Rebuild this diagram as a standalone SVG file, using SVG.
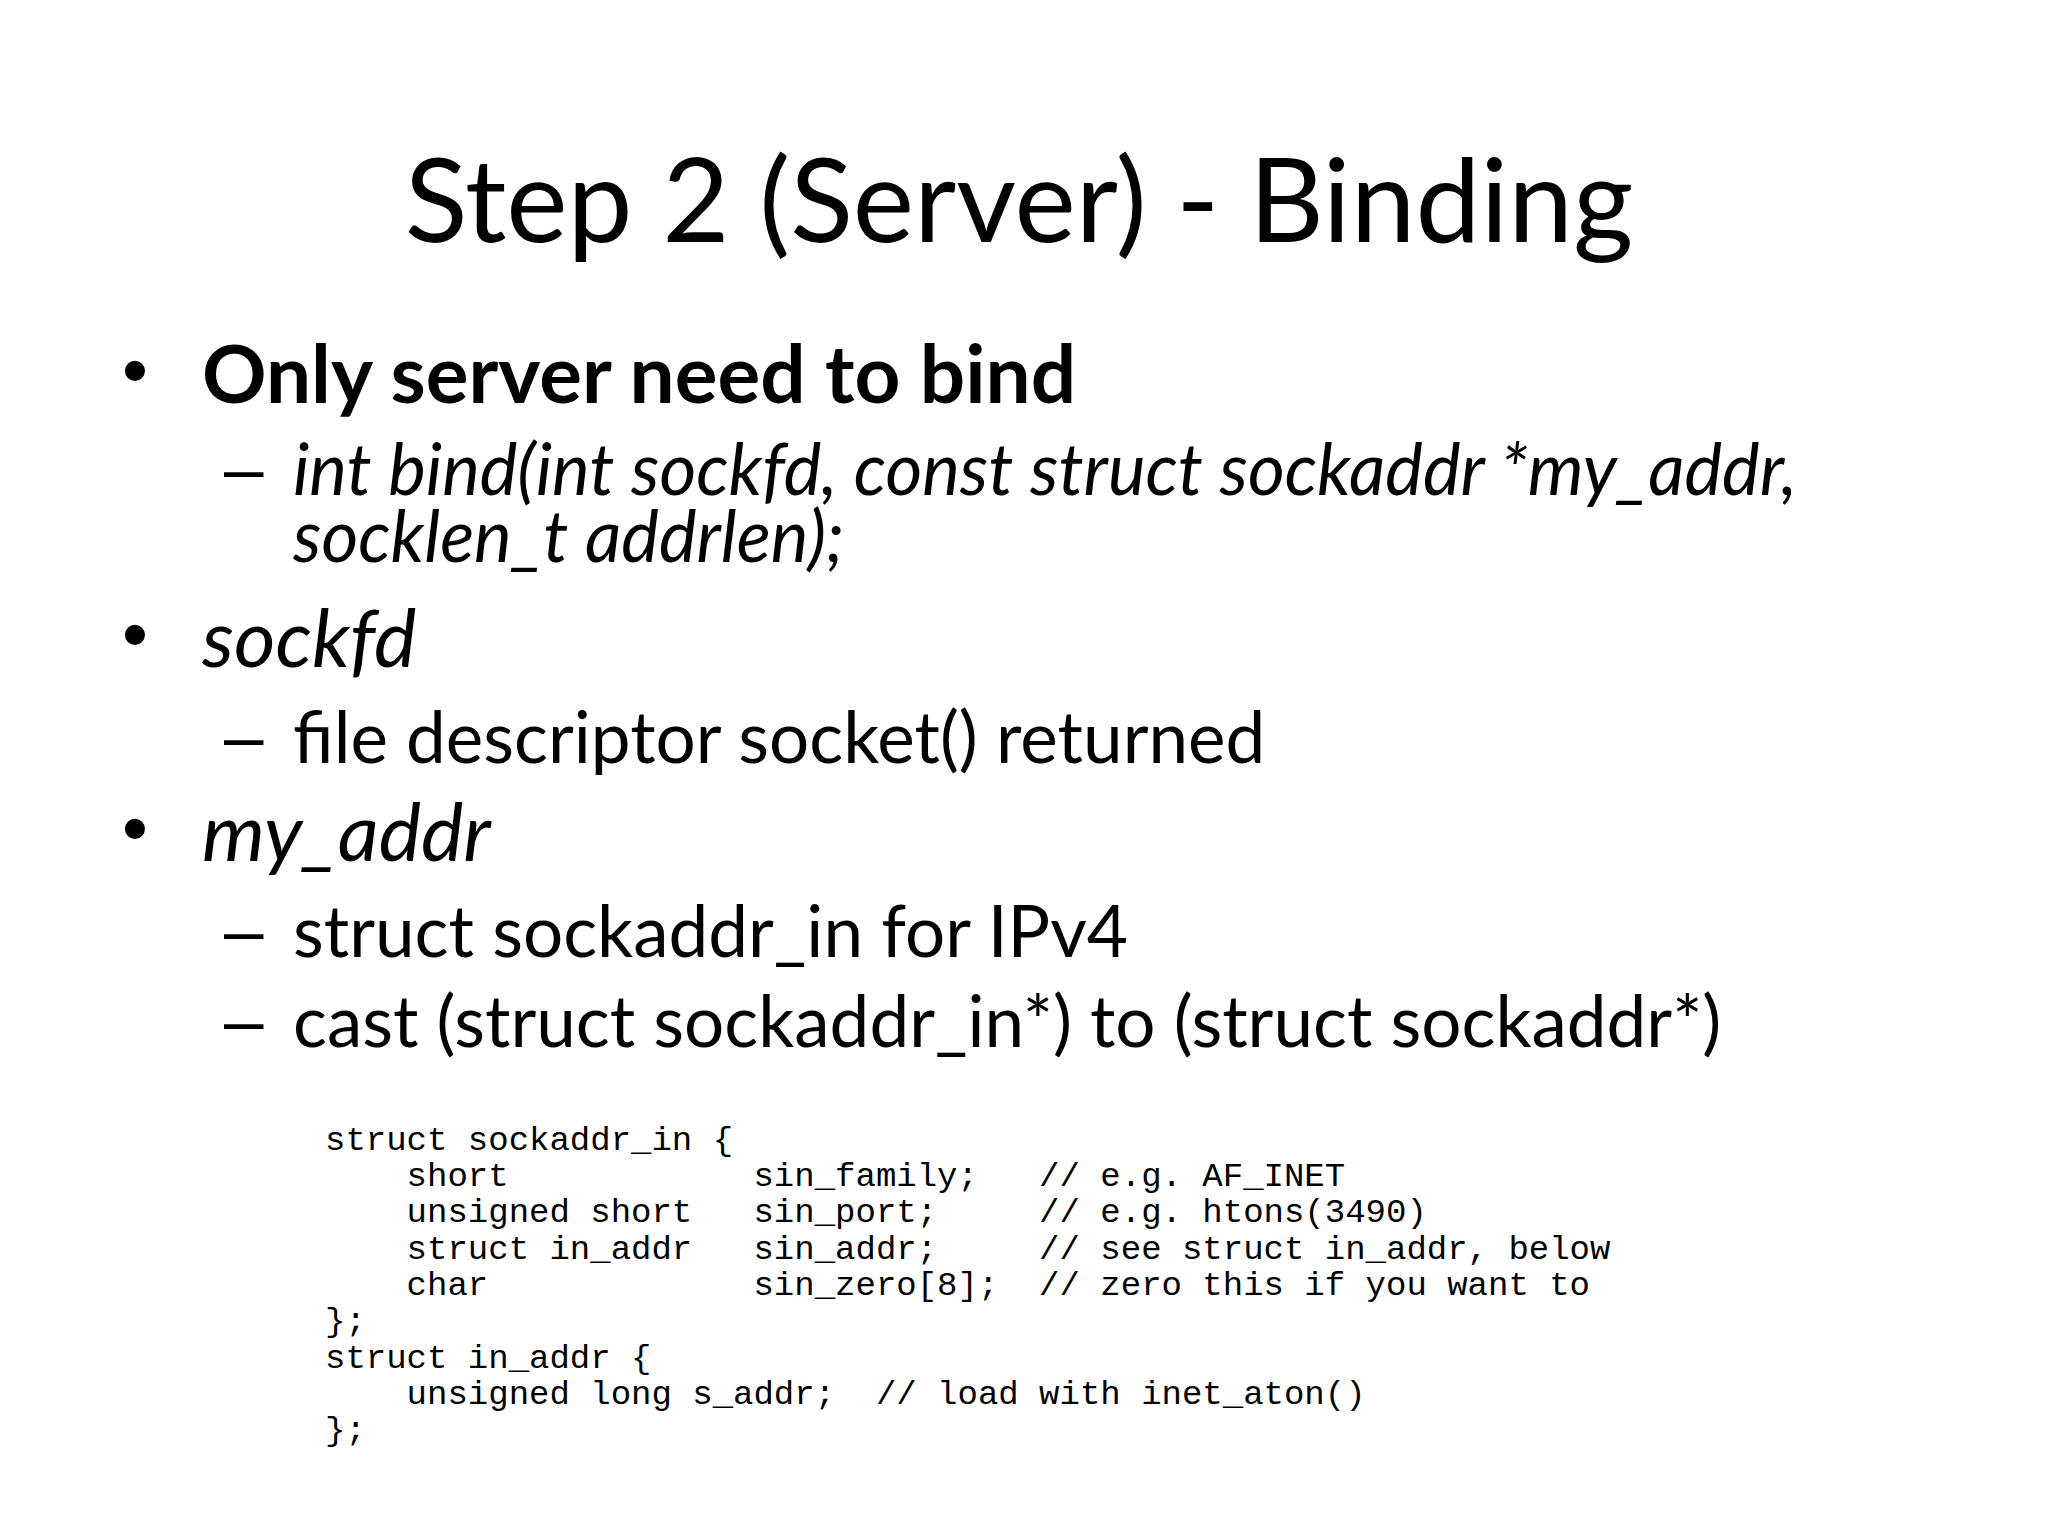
<svg xmlns="http://www.w3.org/2000/svg" width="2048" height="1536" viewBox="0 0 2048 1536">
<style>
.t{font-family:Lato,"Liberation Sans",sans-serif;fill:#000}
.b{font-size:80px}
.s{font-size:71px}
.d{font-size:71px;font-family:"Liberation Sans",sans-serif}
.u{font-size:74px;font-family:"Liberation Sans",sans-serif}
.c{font-family:"Liberation Mono","Courier New",monospace;font-size:34px;fill:#000;white-space:pre}
</style>
<rect width="2048" height="1536" fill="#fff"/>
<text class="t" x="1019" y="242" font-size="116" text-anchor="middle">Step 2 (Server) - Binding</text>
<g id="bullets">
<text class="t u" x="122" y="396">•</text>
<text class="t b" x="202" y="403" font-weight="bold">Only server need to bind</text>
<text class="t d" x="224" y="493">–</text>
<text class="t s" x="293" y="495" font-style="italic">int bind(int sockfd, const struct sockaddr *my_addr,</text>
<text class="t s" x="293" y="562" font-style="italic">socklen_t addrlen);</text>
<text class="t u" x="122" y="660">•</text>
<text class="t b" x="202" y="667" font-style="italic">sockfd</text>
<text class="t d" x="224" y="761">–</text>
<text class="t s" x="293" y="763">file descriptor socket() returned</text>
<text class="t u" x="122" y="854">•</text>
<text class="t b" x="202" y="861" font-style="italic">my_addr</text>
<text class="t d" x="224" y="955">–</text>
<text class="t s" x="293" y="957">struct sockaddr_in for IPv4</text>
<text class="t d" x="224" y="1045">–</text>
<text class="t s" x="293" y="1047">cast (struct sockaddr_in*) to (struct sockaddr*)</text>
</g>
<g id="code" xml:space="preserve">
<text class="c" x="325" y="1150">struct sockaddr_in {</text>
<text class="c" x="325" y="1186">    short            sin_family;   // e.g. AF_INET</text>
<text class="c" x="325" y="1222">    unsigned short   sin_port;     // e.g. htons(3490)</text>
<text class="c" x="325" y="1259">    struct in_addr   sin_addr;     // see struct in_addr, below</text>
<text class="c" x="325" y="1295">    char             sin_zero[8];  // zero this if you want to</text>
<text class="c" x="325" y="1331">};</text>
<text class="c" x="325" y="1368">struct in_addr {</text>
<text class="c" x="325" y="1404">    unsigned long s_addr;  // load with inet_aton()</text>
<text class="c" x="325" y="1440">};</text>
</g>
</svg>
